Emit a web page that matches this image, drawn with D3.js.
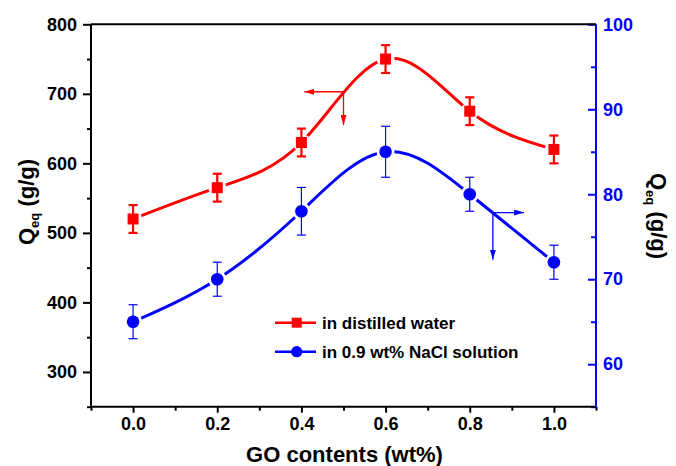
<!DOCTYPE html>
<html><head><meta charset="utf-8">
<script src="https://cdn.jsdelivr.net/npm/d3@7"></script>
<style>
body{margin:0;background:#fff}
svg{display:block}
text{font-family:"Liberation Sans",Arial,Helvetica,sans-serif;font-weight:bold}
</style>
</head><body><svg id="c" width="676" height="466"></svg>
<script>
// ---- data ----
const goContents = [0.0, 0.2, 0.4, 0.6, 0.8, 1.0];
const waterQ     = [520, 565, 630, 750, 675, 620];
const waterErr   = [20, 20, 20, 20, 20, 20];
const salineQ    = [65, 70, 78, 85, 80, 72];
const salineErr  = [2, 2, 2.8, 3, 2, 2];
const xTicks     = [0.0, 0.2, 0.4, 0.6, 0.8, 1.0];
const xMinor     = [-0.1, 0.1, 0.3, 0.5, 0.7, 0.9, 1.1];
const leftTicks  = [300, 400, 500, 600, 700, 800];
const leftMinor  = [250, 350, 450, 550, 650, 750];
const rightTicks = [60, 70, 80, 90, 100];
const rightMinor = [55, 65, 75, 85, 95];
const seriesNames = ["in distilled water", "in 0.9 wt% NaCl solution"];
const xTitle = "GO contents (wt%)";
// arrow annotations in data units: [x, y, arrowX, arrowY]
const waterArrow  = [0.5, 703, 0.407, 655];
const salineArrow = [0.855, 77.85, 0.929, 72.3];

const RED = "#ff0000", BLUE = "#0000ff";
const svg = d3.select("#c");
const m = {l: 91, r: 596, t: 24.3, b: 406.7};
const x  = d3.scaleLinear().domain([-0.1, 1.1]).range([m.l, m.r]);
const yL = d3.scaleLinear().domain([250, 800]).range([m.b, m.t]);
const yR = d3.scaleLinear().domain([55, 100]).range([m.b, m.t]);

const defs = svg.append("defs");
function arrowMarker(id, color){
  defs.append("marker").attr("id", id).attr("viewBox", "0 0 10 6")
    .attr("refX", 10).attr("refY", 3).attr("markerWidth", 10).attr("markerHeight", 6)
    .attr("markerUnits", "userSpaceOnUse").attr("orient", "auto")
    .append("path").attr("d", "M0,0L10,3L0,6Z").attr("fill", color);
}
arrowMarker("ahR", RED); arrowMarker("ahB", BLUE);

// ---- axes ----
function styleAxis(g, color){
  g.select(".domain").remove();
  g.selectAll("line").attr("stroke", color).attr("stroke-width", 2);
  g.selectAll("text").attr("fill", color).style("font-size", "18px");
}
svg.append("g").attr("transform", `translate(${m.l},0)`)
  .call(d3.axisLeft(yL).tickValues(leftTicks).tickSize(8).tickPadding(6).tickFormat(d3.format("d")))
  .call(g => styleAxis(g, "#000"));
svg.append("g").attr("transform", `translate(${m.l},0)`)
  .call(d3.axisLeft(yL).tickValues(leftMinor).tickSize(4).tickFormat(""))
  .call(g => styleAxis(g, "#000"));
svg.append("g").attr("transform", `translate(0,${m.b})`)
  .call(d3.axisBottom(x).tickValues(xTicks).tickSize(6).tickPadding(5).tickFormat(d3.format(".1f")))
  .call(g => styleAxis(g, "#000"));
svg.append("g").attr("transform", `translate(0,${m.b})`)
  .call(d3.axisBottom(x).tickValues(xMinor).tickSize(4).tickFormat(""))
  .call(g => styleAxis(g, "#000"));
svg.append("g").attr("transform", `translate(${m.r},0)`)
  .call(d3.axisRight(yR).tickValues(rightTicks).tickSizeInner(-8).tickSizeOuter(0).tickPadding(7).tickFormat(d3.format("d")))
  .call(g => styleAxis(g, BLUE));
svg.append("g").attr("transform", `translate(${m.r},0)`)
  .call(d3.axisRight(yR).tickValues(rightMinor).tickSizeInner(-5).tickSizeOuter(0).tickFormat(""))
  .call(g => styleAxis(g, BLUE));

// frame
svg.append("line").attr("x1", m.l).attr("x2", m.r).attr("y1", m.t).attr("y2", m.t).attr("stroke", "#000").attr("stroke-width", 2);
svg.append("line").attr("x1", m.l).attr("x2", m.r).attr("y1", m.b).attr("y2", m.b).attr("stroke", "#000").attr("stroke-width", 2);
svg.append("line").attr("x1", m.l).attr("x2", m.l).attr("y1", m.t).attr("y2", m.b).attr("stroke", "#000").attr("stroke-width", 2);
svg.append("line").attr("x1", m.r).attr("x2", m.r).attr("y1", m.t).attr("y2", m.b).attr("stroke", BLUE).attr("stroke-width", 2);

// titles
svg.append("text").attr("x", (x(0.4)+x(0.6))/2 + 1).attr("y", 462).attr("text-anchor", "middle")
  .style("font-size", "22px").attr("fill", "#000").text(xTitle);
function yTitle(tx, ty, rot, color){
  const t = svg.append("text").attr("transform", `translate(${tx},${ty}) rotate(${rot})`)
    .attr("text-anchor", "middle").style("font-size", "22px").attr("fill", color);
  t.append("tspan").text("Q");
  t.append("tspan").attr("dy", 5).style("font-size", "13px").text("eq");
  t.append("tspan").attr("dy", -5).text(" (g/g)");
}
yTitle(34, 202, -90, "#000");
yTitle(651, 216, 90, "#000");

// ---- series ----
const waterPts  = goContents.map((g, i) => [x(g), yL(waterQ[i]), yL(waterQ[i]-waterErr[i]), yL(waterQ[i]+waterErr[i])]);
const salinePts = goContents.map((g, i) => [x(g), yR(salineQ[i]), yR(salineQ[i]-salineErr[i]), yR(salineQ[i]+salineErr[i])]);

function gapMask(id, pts){
  const mk = defs.append("mask").attr("id", id).attr("maskUnits", "userSpaceOnUse")
    .attr("x", 0).attr("y", 0).attr("width", 676).attr("height", 466);
  mk.append("rect").attr("width", 676).attr("height", 466).attr("fill", "#fff");
  mk.selectAll("circle").data(pts).join("circle").attr("cx", d => d[0]).attr("cy", d => d[1]).attr("r", 9).attr("fill", "#000");
}
gapMask("mW", waterPts); gapMask("mS", salinePts);

const line = d3.line().x(d => d[0]).y(d => d[1]).curve(d3.curveNatural);
svg.append("path").datum(waterPts).attr("d", line).attr("fill", "none").attr("stroke", RED).attr("stroke-width", 3).attr("mask", "url(#mW)");
svg.append("path").datum(salinePts).attr("d", line).attr("fill", "none").attr("stroke", BLUE).attr("stroke-width", 3).attr("mask", "url(#mS)");

function errBars(pts, color, w){
  const g = svg.append("g").attr("stroke", color).attr("stroke-width", w);
  pts.forEach(p => {
    g.append("line").attr("x1", p[0]).attr("x2", p[0]).attr("y1", p[2]).attr("y2", p[3]);
    g.append("line").attr("x1", p[0]-4.5).attr("x2", p[0]+4.5).attr("y1", p[2]).attr("y2", p[2]);
    g.append("line").attr("x1", p[0]-4.5).attr("x2", p[0]+4.5).attr("y1", p[3]).attr("y2", p[3]);
  });
}
errBars(waterPts, RED, 2.2);
errBars(salinePts, BLUE, 1.2);

svg.append("g").selectAll("rect").data(waterPts).join("rect")
  .attr("x", d => d[0]-5.5).attr("y", d => d[1]-5.5).attr("width", 11).attr("height", 11).attr("fill", RED);
svg.append("g").selectAll("circle").data(salinePts).join("circle")
  .attr("cx", d => d[0]).attr("cy", d => d[1]).attr("r", 6.3).attr("fill", BLUE);

// arrows
function arrow(a, ys, color, mid){
  const g = svg.append("g").attr("stroke", color).attr("stroke-width", 1.3);
  g.append("line").attr("x1", x(a[0])).attr("y1", ys(a[1])).attr("x2", x(a[2])).attr("y2", ys(a[1])).attr("marker-end", `url(#${mid})`);
  g.append("line").attr("x1", x(a[0])).attr("y1", ys(a[1])).attr("x2", x(a[0])).attr("y2", ys(a[3])).attr("marker-end", `url(#${mid})`);
}
arrow(waterArrow, yL, RED, "ahR");
arrow(salineArrow, yR, BLUE, "ahB");

// legend
const legY = [322.7, 351.7];
const legColors = [RED, BLUE];
const lg = svg.append("g");
legY.forEach((ly, i) => {
  lg.append("line").attr("x1", 275).attr("x2", 316).attr("y1", ly).attr("y2", ly).attr("stroke", legColors[i]).attr("stroke-width", 2.5);
  if (i === 0) lg.append("rect").attr("x", 291.7).attr("y", ly-5).attr("width", 10).attr("height", 10).attr("fill", RED);
  else lg.append("circle").attr("cx", 296.7).attr("cy", ly).attr("r", 5.6).attr("fill", BLUE);
  lg.append("text").attr("x", 322).attr("y", ly+5.8).style("font-size", "17px").attr("fill", "#000").text(seriesNames[i]);
});
</script></body></html>
